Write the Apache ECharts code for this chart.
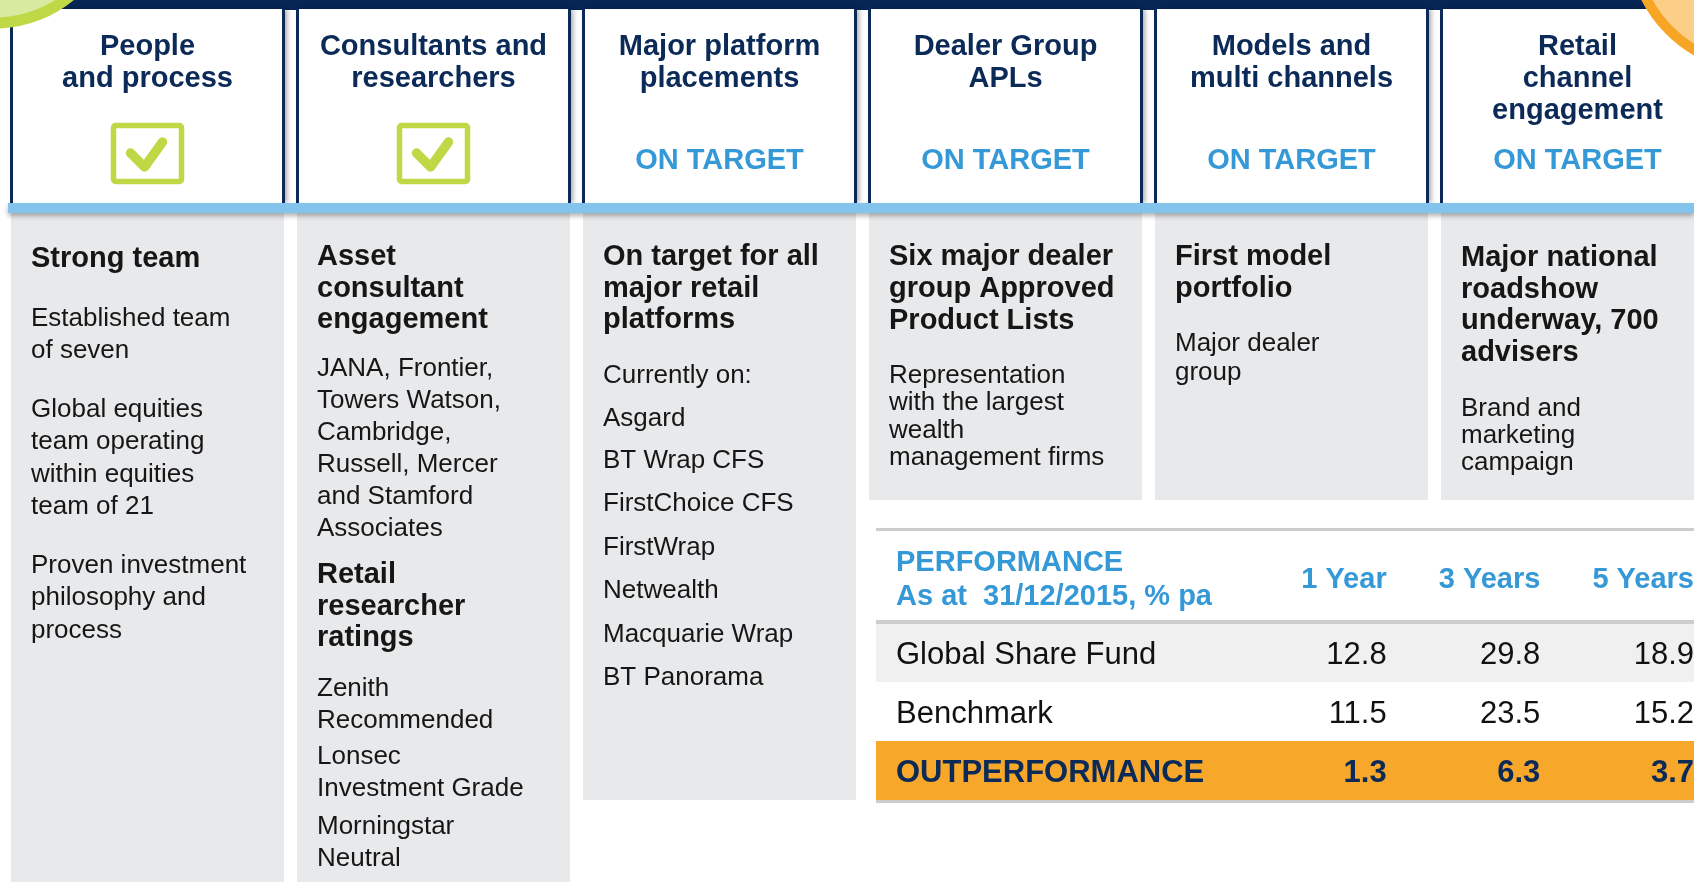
<!DOCTYPE html>
<html>
<head>
<meta charset="utf-8">
<title>Global Share Fund - progress</title>
<script src="https://cdn.jsdelivr.net/npm/echarts@6/dist/echarts.min.js"></script>
<style>
html, body { margin: 0; padding: 0; background: #fff; }
#chart { width: 1694px; height: 882px; }
</style>
</head>
<body>
<div id="chart"></div>
<script>
// six pillars across the top
const pillarTitles = [
	['People', 'and process'],
	['Consultants and', 'researchers'],
	['Major platform', 'placements'],
	['Dealer Group', 'APLs'],
	['Models and', 'multi channels'],
	['Retail', 'channel', 'engagement'],
];
const pillarStatus = ['done', 'done', 'ON TARGET', 'ON TARGET', 'ON TARGET', 'ON TARGET'];

// panel notes: [bold, lines] per paragraph
const pillarNotes = [
	[[1, ['Strong team']], [0, ['Established team', 'of seven']], [0, ['Global equities', 'team operating', 'within equities', 'team of 21']], [0, ['Proven investment', 'philosophy and', 'process']]],
	[[1, ['Asset', 'consultant', 'engagement']], [0, ['JANA, Frontier,', 'Towers Watson,', 'Cambridge,', 'Russell, Mercer', 'and Stamford', 'Associates']], [1, ['Retail', 'researcher', 'ratings']], [0, ['Zenith', 'Recommended']], [0, ['Lonsec', 'Investment Grade']], [0, ['Morningstar', 'Neutral']]],
	[[1, ['On target for all', 'major retail', 'platforms']], [0, ['Currently on:']], [0, ['Asgard']], [0, ['BT Wrap CFS']], [0, ['FirstChoice CFS']], [0, ['FirstWrap']], [0, ['Netwealth']], [0, ['Macquarie Wrap']], [0, ['BT Panorama']]],
	[[1, ['Six major dealer', 'group Approved', 'Product Lists']], [0, ['Representation', 'with the largest', 'wealth', 'management firms']]],
	[[1, ['First model', 'portfolio']], [0, ['Major dealer', 'group']]],
	[[1, ['Major national', 'roadshow', 'underway, 700', 'advisers']], [0, ['Brand and', 'marketing', 'campaign']]],
];

// performance table
const perfTitle = ['PERFORMANCE', 'As at  31/12/2015, % pa'];
const perfPeriods = ['1 Year', '3 Years', '5 Years'];
const perfRows = ['Global Share Fund', 'Benchmark', 'OUTPERFORMANCE'];
const fundReturns = [12.8, 29.8, 18.9];
const benchmarkReturns = [11.5, 23.5, 15.2];
const outperformance = [1.3, 6.3, 3.7];

// layout
const W = 1694, H = 882;
const COL_X0 = 11, COL_STEP = 286, COL_W = 273;
const HEAD_TOP = 9, HEAD_BOTTOM = 203;
const PANEL_TOP = 213;
const DY = 3; // text baseline nudge
const panelBottoms = [882, 882, 800, 500, 500, 500];
const noteLayout = [
	{ top: 256, boldLH: 32, bodyLH: 32.4, gaps: [59.5, 59, 58.5] },
	{ top: 254, boldLH: 31.6, bodyLH: 32, gaps: [49, 46, 50, 36.5, 37.5] },
	{ top: 254, boldLH: 31.5, bodyLH: 32, gaps: [56, 43, 42, 43, 43.5, 43.5, 44, 43] },
	{ top: 254, boldLH: 32, bodyLH: 27.3, gaps: [55] },
	{ top: 254, boldLH: 32, bodyLH: 28.5, gaps: [55] },
	{ top: 255, boldLH: 31.7, bodyLH: 27, gaps: [56] },
];
const TABLE_LEFT = 876;
const FONT = '"Liberation Sans", Arial, sans-serif';
const NAVY = '#0b2a58', SKY = '#3599d7', LIME = '#bed846', PANEL = '#e8e9eb', ORANGE = '#f7a729';

const graphics = [];
graphics.push({ type: 'rect', z: 1, shape: { x: 0, y: 0, width: W, height: HEAD_TOP + 1 }, style: { fill: '#062656' } });

pillarTitles.forEach((lines, i) => {
	const x = COL_X0 + i * COL_STEP;
	const cx = x + COL_W / 2;
	// header box
	graphics.push({ type: 'rect', z: 2, shape: { x: x, y: HEAD_TOP, width: COL_W, height: HEAD_BOTTOM - HEAD_TOP },
		style: { fill: '#fff', shadowBlur: 5, shadowOffsetX: 3, shadowColor: 'rgba(0,0,0,0.35)' } });
	graphics.push({ type: 'rect', z: 3, shape: { x: x - 1, y: HEAD_TOP, width: 3, height: HEAD_BOTTOM - HEAD_TOP }, style: { fill: NAVY } });
	graphics.push({ type: 'rect', z: 3, shape: { x: x + COL_W - 2, y: HEAD_TOP, width: 3, height: HEAD_BOTTOM - HEAD_TOP }, style: { fill: NAVY } });
	lines.forEach((t, k) => {
		graphics.push({ type: 'text', z: 4, style: { text: t, x: cx, y: 44 + DY + k * 32, align: 'center', verticalAlign: 'middle',
			font: 'bold 29px ' + FONT, fill: NAVY } });
	});
	if (pillarStatus[i] === 'done') {
		graphics.push({ type: 'rect', z: 4, shape: { x: cx - 34, y: 125.5, width: 68, height: 56, r: 2 },
			style: { fill: '#fff', stroke: LIME, lineWidth: 5.5 } });
		graphics.push({ type: 'polyline', z: 4, shape: { points: [[cx - 17, 153], [cx - 3, 167], [cx + 15, 142]] },
			style: { stroke: LIME, lineWidth: 9.5, lineCap: 'round', lineJoin: 'round', fill: null } });
	} else {
		graphics.push({ type: 'text', z: 4, style: { text: pillarStatus[i], x: cx, y: 158 + DY, align: 'center', verticalAlign: 'middle',
			font: 'bold 29px ' + FONT, fill: SKY } });
	}
	// panel below
	graphics.push({ type: 'rect', z: 1, shape: { x: x, y: PANEL_TOP, width: COL_W, height: panelBottoms[i] - PANEL_TOP }, style: { fill: PANEL } });
	const lay = noteLayout[i];
	let y = lay.top + DY;
	pillarNotes[i].forEach((para, p) => {
		if (p > 0) y += lay.gaps[p - 1];
		const bold = para[0] === 1;
		para[1].forEach((t, k) => {
			if (k > 0) y += bold ? lay.boldLH : lay.bodyLH;
			graphics.push({ type: 'text', z: 4, style: { text: t, x: x + 20, y: y, verticalAlign: 'middle',
				font: (bold ? 'bold 29px ' : '26px ') + FONT, fill: '#161616' } });
		});
	});
});

// light blue strip under the headers
graphics.push({ type: 'rect', z: 5, shape: { x: 8, y: HEAD_BOTTOM, width: W - 8, height: 10 },
	style: { fill: '#84c4ec', shadowBlur: 5, shadowOffsetY: 3, shadowColor: 'rgba(0,0,0,0.3)' } });

// table header + rules
perfTitle.forEach((t, k) => {
	graphics.push({ type: 'text', z: 4, style: { text: t, x: TABLE_LEFT + 20, y: 560 + DY + k * 34, verticalAlign: 'middle',
		font: 'bold 29px ' + FONT, fill: SKY } });
});
[[528, 3], [620, 4], [800, 3]].forEach(r => {
	graphics.push({ type: 'rect', z: 6, shape: { x: TABLE_LEFT, y: r[0], width: W - TABLE_LEFT, height: r[1] }, style: { fill: '#cdcdcd' } });
});

// corner discs
graphics.push({ type: 'circle', z: 20, shape: { cx: -5, cy: -95, r: 118 }, style: { fill: '#d8e9a0', stroke: LIME, lineWidth: 11 } });
graphics.push({ type: 'circle', z: 20, shape: { cx: 1760, cy: -60, r: 128 }, style: { fill: '#fccf88', stroke: '#f6a524', lineWidth: 10 } });

const rowFill = ['#f0f0f0', '#ffffff', ORANGE];
const rowValues = [fundReturns, benchmarkReturns, outperformance];
const cells = [];
rowValues.forEach((vals, r) => vals.forEach((v, c) => cells.push([c, r, v])));

const chart = echarts.init(document.getElementById('chart'));
chart.setOption({
	animation: false,
	grid: { left: 1233, top: 623, width: 462, height: 177 },
	xAxis: { type: 'category', data: perfPeriods, show: false },
	yAxis: { type: 'category', data: perfRows, inverse: true, show: false },
	graphic: { elements: graphics },
	series: [
		{
			type: 'custom', clip: false, z: 3,
			data: perfRows.map((r, i) => [0, i]),
			renderItem: (params, api) => {
				const row = api.value(1);
				const c = api.coord([0, row]);
				const h = api.size([0, 1])[1];
				const last = row === perfRows.length - 1;
				return { type: 'group', children: [
					{ type: 'rect', shape: { x: TABLE_LEFT, y: c[1] - h / 2, width: W - TABLE_LEFT, height: h }, style: { fill: rowFill[row] } },
					{ type: 'text', style: { text: perfRows[row], x: TABLE_LEFT + 20, y: c[1] + DY, verticalAlign: 'middle',
						font: (last ? 'bold 31px ' : '31px ') + FONT, fill: last ? NAVY : '#111' } },
				] };
			},
		},
		{
			type: 'custom', clip: false, z: 4,
			data: perfPeriods.map((p, i) => [i, 0]),
			renderItem: (params, api) => {
				const c = api.coord([api.value(0), 0]);
				const s = api.size([1, 1]);
				return { type: 'text', style: { text: perfPeriods[api.value(0)], x: c[0] + s[0] / 2, y: c[1] - s[1] / 2 - 46 + DY,
					align: 'right', verticalAlign: 'middle', font: 'bold 29px ' + FONT, fill: SKY } };
			},
		},
		{
			type: 'custom', clip: false, z: 4,
			data: cells,
			renderItem: (params, api) => {
				const row = api.value(1);
				const c = api.coord([api.value(0), row]);
				const s = api.size([1, 1]);
				const last = row === perfRows.length - 1;
				return { type: 'text', style: { text: api.value(2).toFixed(1), x: c[0] + s[0] / 2, y: c[1] + DY,
					align: 'right', verticalAlign: 'middle', font: (last ? 'bold 31px ' : '31px ') + FONT, fill: last ? NAVY : '#111' } };
			},
		},
	],
});
</script>
</body>
</html>
